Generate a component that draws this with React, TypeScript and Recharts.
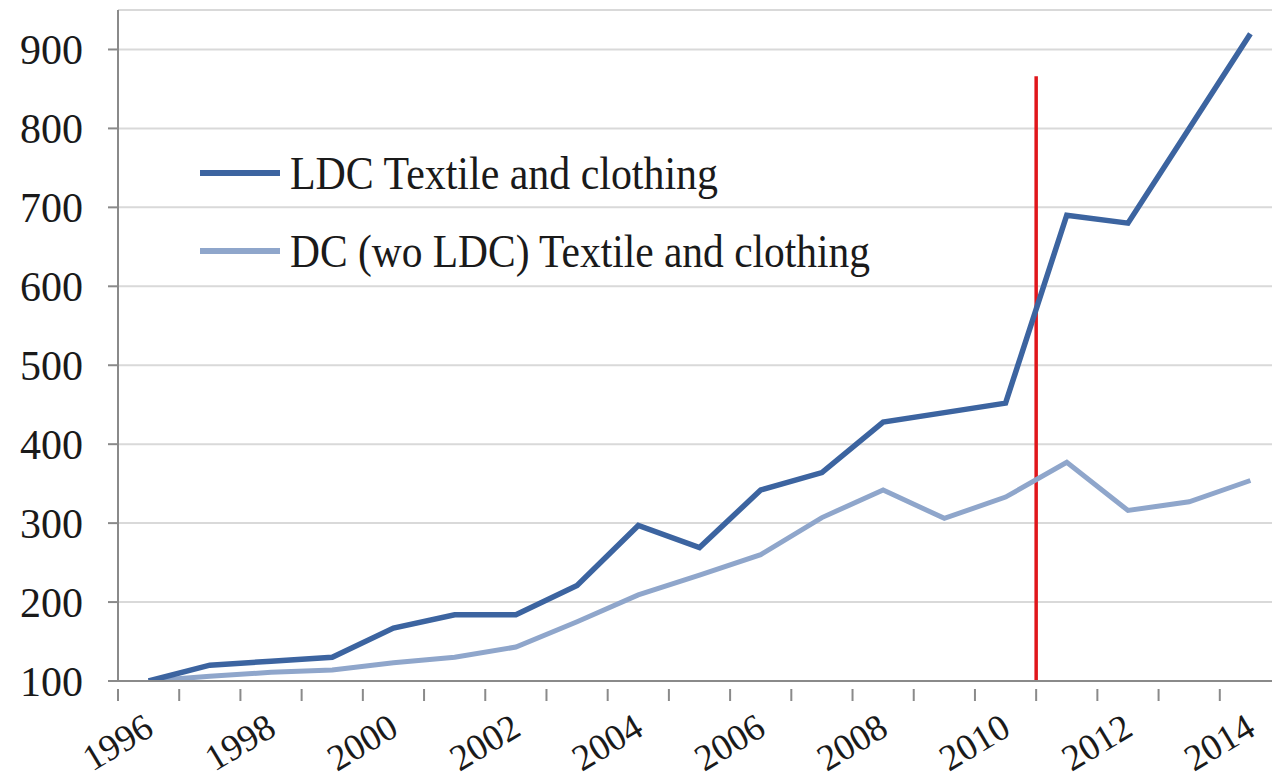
import React from "react";
import { LineChart, Line, XAxis, YAxis, CartesianGrid, ReferenceLine } from "recharts";

const years = [1996, 1997, 1998, 1999, 2000, 2001, 2002, 2003, 2004, 2005, 2006, 2007, 2008, 2009, 2010, 2011, 2012, 2013, 2014];
const ldcValues = [100, 120, 125, 130, 167, 184, 184, 221, 297, 269, 342, 364, 428, 440, 452, 690, 680, 800, 920];
const dcValues = [100, 106, 111, 114, 123, 130, 143, 175, 209, 234, 260, 307, 342, 306, 333, 377, 316, 327, 354];
const yTicks = [100, 200, 300, 400, 500, 600, 700, 800, 900];
const xLabelYears = [1996, 1998, 2000, 2002, 2004, 2006, 2008, 2010, 2012, 2014];
const xBoundaries = [1995.5, 1996.5, 1997.5, 1998.5, 1999.5, 2000.5, 2001.5, 2002.5, 2003.5, 2004.5, 2005.5, 2006.5, 2007.5, 2008.5, 2009.5, 2010.5, 2011.5, 2012.5, 2013.5, 2014.5];
const seriesNames = ["LDC Textile and clothing", "DC (wo LDC) Textile and clothing"];
const markerYear = 2010.5;
const markerTop = 866;

const data = years.map((y, i) => ({ year: y, ldc: ldcValues[i], dc: dcValues[i] }));
const xTicks = [...xBoundaries, ...xLabelYears].sort((a, b) => a - b);

const FONT = "'Liberation Serif', 'DejaVu Serif', serif";
const DARK = "#3C64A0";
const LIGHT = "#8FA6CB";
const seriesColors = [DARK, LIGHT];

const XTick = (props: any) => {
  const { x, y, payload } = props;
  const v = payload.value;
  if (xLabelYears.includes(v)) {
    const ax = x + 7;
    const ay = y + 45;
    return (
      <text
        x={ax}
        y={ay}
        transform={`rotate(-31, ${ax}, ${ay})`}
        textAnchor="end"
        fontFamily={FONT}
        fontSize={37}
        fill="#1a1a1a"
      >
        {v}
      </text>
    );
  }
  if (Number.isInteger(v)) return null;
  return <line x1={x} x2={x} y1={y} y2={y + 12} stroke="#8a8a8a" strokeWidth={2} />;
};

const LegendBox = () => {
  const lengths = [428, 580];
  return (
    <svg width={760} height={150} style={{ position: "absolute", left: 190, top: 140 }}>
      {seriesNames.map((name, i) => {
        const cy = 33 + i * 78;
        return (
          <g key={i}>
            <line x1={10} x2={90} y1={cy} y2={cy} stroke={seriesColors[i]} strokeWidth={6} />
            <text
              x={100}
              y={cy + 16}
              fontFamily={FONT}
              fontSize={46}
              fill="#1a1a1a"
              textLength={lengths[i]}
              lengthAdjust="spacingAndGlyphs"
            >
              {name}
            </text>
          </g>
        );
      })}
    </svg>
  );
};

export default function App() {
  return (
    <div style={{ position: "absolute", left: 0, top: 0, width: 1272, height: 783, overflow: "hidden", background: "#fff" }}>
      <LineChart width={1290} height={783} data={data} margin={{ top: 10, right: 9, left: 0, bottom: 0 }}>
        <CartesianGrid horizontal={true} vertical={false} stroke="#d9d9d9" strokeWidth={2} />
        <XAxis
          dataKey="year"
          type="number"
          domain={[1995.5, 2014.5]}
          ticks={xTicks}
          interval={0}
          height={102}
          stroke="#8a8a8a"
          strokeWidth={2}
          tickLine={false}
          tick={<XTick />}
          allowDataOverflow
        />
        <YAxis
          domain={[100, 950]}
          ticks={yTicks}
          interval={0}
          width={118}
          stroke="#8a8a8a"
          strokeWidth={2}
          tickSize={10}
          tickMargin={25}
          tick={{ fontFamily: FONT, fontSize: 42, fill: "#1a1a1a" }}
          allowDataOverflow
        />
        <ReferenceLine
          segment={[{ x: markerYear, y: 100 }, { x: markerYear, y: markerTop }]}
          stroke="#e0161b"
          strokeWidth={3.5}
        />
        <Line type="linear" dataKey="dc" name={seriesNames[1]} stroke={LIGHT} strokeWidth={5} dot={false} isAnimationActive={false} />
        <Line type="linear" dataKey="ldc" name={seriesNames[0]} stroke={DARK} strokeWidth={5.5} dot={false} isAnimationActive={false} />
      </LineChart>
      <LegendBox />
    </div>
  );
}
